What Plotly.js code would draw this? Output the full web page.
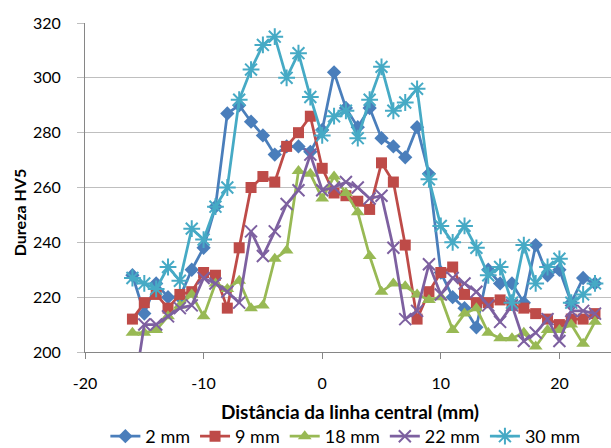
<!DOCTYPE html>
<html>
<head>
<meta charset="utf-8">
<script src="https://cdn.plot.ly/plotly-3.0.1.min.js"></script>
<style>html,body{margin:0;padding:0;background:#fff;}#chart{width:611px;height:448px;}</style>
</head>
<body>
<div id="chart"></div>
<script>
const distance = [-16,-15,-14,-13,-12,-11,-10,-9,-8,-7,-6,-5,-4,-3,-2,-1,0,1,2,3,4,5,6,7,8,9,10,11,12,13,14,15,16,17,18,19,20,21,22,23];
const hv2mm  = [228,214,225,220,220,230,238,253,287,290,284,279,272,275,275,273,281,302,289,282,289,278,275,271,282,265,229,220,216,209,230,225,225,218,239,228,230,218,227,225];
const hv9mm  = [212,218,221,216,221,222,229,228,216,238,260,264,262,275,280,286,267,258,257,255,252,269,262,239,212,222,229,231,221,218,218,219,217,216,214,212,210,212,212,214];
const hv18mm = [207,207,208,213,217,221,213,225,223,226,216,217,234,237,266,265,256,264,258,251,235,222,225,224,221,219,220,208,214,216,207,205,205,207,202,208,208,210,203,211];
const hv22mm = [182,210,210,213,216,217,227,225,222,218,244,235,244,254,259,272,259,260,262,260,256,257,238,212,215,232,221,227,225,222,217,211,217,204,207,212,204,215,215,214];
const hv30mm = [227,225,223,231,226,245,241,253,260,292,303,312,315,300,309,293,279,286,288,278,292,304,288,291,296,263,246,240,246,238,228,231,218,239,225,231,234,218,221,225];
const seriesNames = ['2 mm','9 mm','18 mm','22 mm','30 mm'];
const xTicks = [-20,-10,0,10,20];
const yTicks = [200,220,240,260,280,300,320];
const xTitle = 'Distância da linha central (mm)';
const yTitle = 'Dureza HV5';

const colors = ['#4A7EBB','#BE4B48','#98B954','#7D60A0','#46AAC5'];
const symbols = ['diamond','square','triangle-up','x-thin-open','asterisk-open'];
const sizes = [11,11,12,12,14];
const values = [hv2mm, hv9mm, hv18mm, hv22mm, hv30mm];

const traces = values.map((v,i)=>({
  x: distance, y: v, name: seriesNames[i], type:'scatter', mode:'lines+markers',
  line:{color:colors[i], width:2.75},
  marker:{symbol:symbols[i], size:sizes[i], color:colors[i], line:{color:colors[i], width: (i>=3?2:0)}},
  cliponaxis:true
}));

const font = "Lato, 'Open Sans', sans-serif";
const layout = {
  width:611, height:448,
  margin:{l:85, r:0, t:23, b:96, autoexpand:false},
  paper_bgcolor:'#fff', plot_bgcolor:'#fff',
  font:{family:font, size:16, color:'#000'},
  showlegend:true,
  legend:{orientation:'h', x:0.495, xanchor:'center', y:-(436-351.6)/328.6, yanchor:'middle', font:{size:18}, itemwidth:30, traceorder:'normal'},
  xaxis:{
    range:[-20,24.35], tickvals:xTicks, ticktext:xTicks.map(String),
    showgrid:false, zeroline:false, showline:true, linecolor:'#868686', linewidth:1,
    ticks:'outside', ticklen:6, tickcolor:'#868686',
    tickfont:{size:16}, ticklabelstandoff:11
  },
  yaxis:{
    range:[200,320], tickvals:yTicks, ticktext:yTicks.map(String),
    showgrid:true, gridcolor:'#BFBFBF', gridwidth:1, zeroline:false,
    showline:true, linecolor:'#868686', linewidth:1,
    ticks:'outside', ticklen:7, tickcolor:'#BFBFBF',
    tickfont:{size:16}, ticklabelstandoff:13
  },
  annotations:[
    {text:'<b>'+xTitle+'</b>', xref:'paper', yref:'paper', x:(350-85)/526, y:-(411-351.6)/328.6,
     xanchor:'center', yanchor:'middle', showarrow:false, font:{size:19}},
    {text:'<b>'+yTitle+'</b>', xref:'paper', yref:'paper', x:(19-85)/526, y:(351.6-213)/328.6,
     xanchor:'center', yanchor:'middle', showarrow:false, textangle:-90, font:{size:16}}
  ]
};
Plotly.newPlot('chart', traces, layout, {displayModeBar:false, staticPlot:true});
</script>
</body>
</html>
